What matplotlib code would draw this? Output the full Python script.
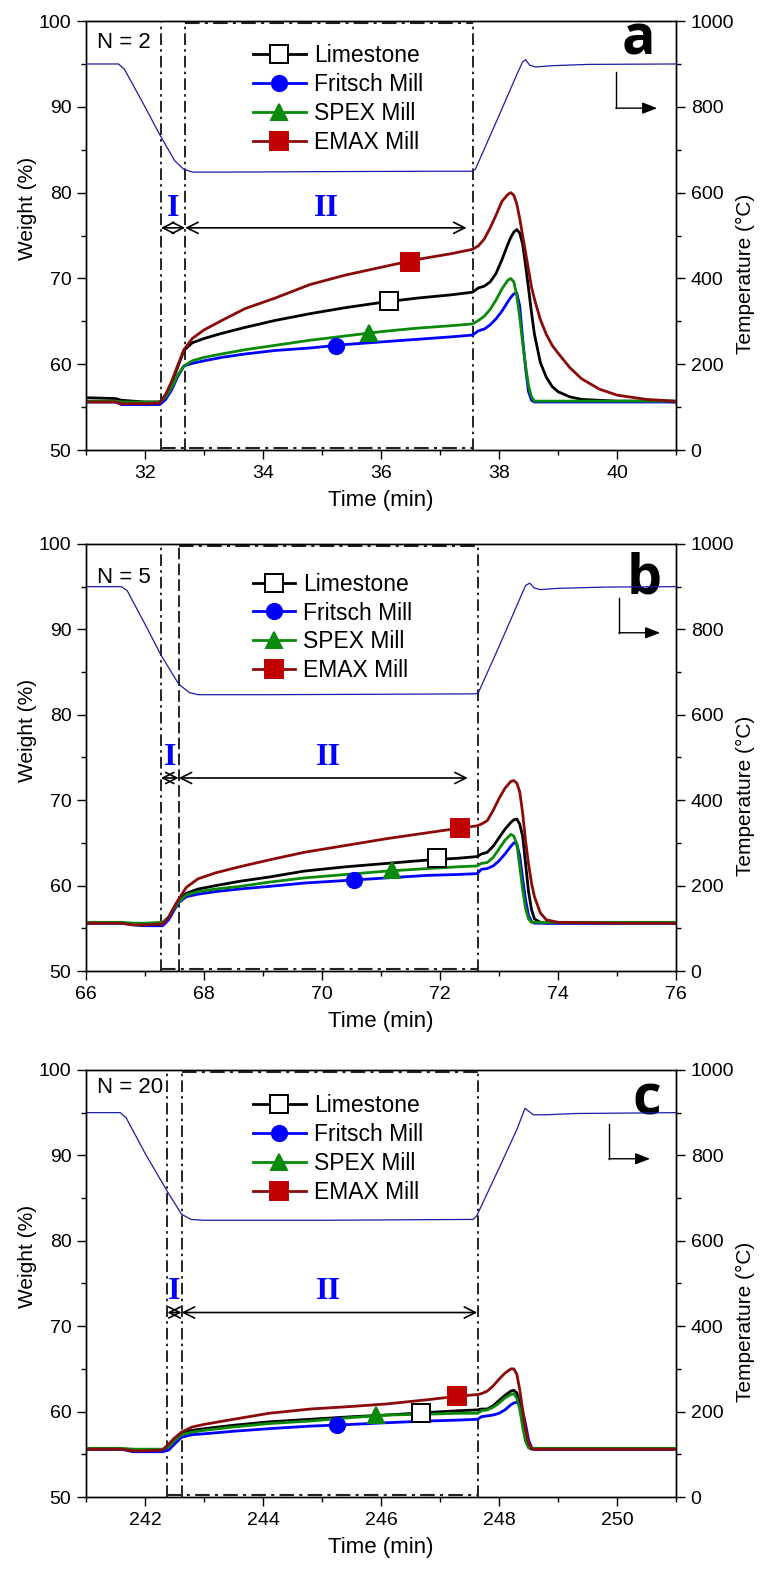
import matplotlib
matplotlib.use('Agg')
import matplotlib.pyplot as plt
from matplotlib.lines import Line2D
from matplotlib.ticker import MultipleLocator

plt.rcParams['font.family'] = ['Liberation Sans', 'DejaVu Sans']

labels = ['Limestone', 'Fritsch Mill', 'SPEX Mill', 'EMAX Mill']

# ---------- panel a, N = 2 ----------
a_t = [31.0, 31.5, 31.6, 31.8, 32.0, 32.25, 32.35, 32.45, 32.55, 32.66, 32.8, 33.0, 33.3, 33.7,
       34.2, 34.8, 35.4, 36.0, 36.6, 37.2, 37.55, 37.65, 37.75, 37.85, 37.95, 38.05, 38.15, 38.2,
       38.25, 38.3, 38.35, 38.4, 38.45, 38.5, 38.55, 38.6, 38.7, 38.8, 38.9, 39.0, 39.2, 39.4,
       39.7, 40.0, 40.5, 41.0]
a_lime = [56.1, 56.0, 55.8, 55.7, 55.6, 55.6, 56.4, 57.8, 59.6, 61.6, 62.5, 63.0, 63.6, 64.3,
          65.1, 65.9, 66.6, 67.2, 67.7, 68.1, 68.4, 68.9, 69.1, 69.6, 70.6, 72.2, 74.0, 74.8,
          75.4, 75.7, 75.3, 74.0, 71.5, 68.8, 66.0, 63.5, 60.2, 58.5, 57.4, 56.8, 56.2, 55.9,
          55.8, 55.7, 55.7, 55.6]
a_fritsch = [55.6, 55.6, 55.3, 55.3, 55.3, 55.3, 55.9, 57.0, 58.5, 59.8, 60.1, 60.4, 60.8, 61.2,
             61.6, 61.9, 62.3, 62.6, 62.9, 63.2, 63.4, 63.9, 64.1, 64.6, 65.3, 66.2, 67.3, 67.8,
             68.2, 68.3, 66.8, 63.0, 59.5, 56.8, 55.8, 55.6, 55.6, 55.6, 55.6, 55.6, 55.6, 55.6,
             55.6, 55.6, 55.6, 55.6]
a_spex = [55.7, 55.7, 55.6, 55.6, 55.6, 55.6, 56.2, 57.3, 58.7, 59.8, 60.4, 60.8, 61.2, 61.7,
          62.2, 62.8, 63.3, 63.8, 64.2, 64.5, 64.7, 65.1, 65.6, 66.4, 67.5, 68.8, 69.8, 70.0,
          69.6, 68.0, 65.5, 62.5, 59.8, 57.5, 56.2, 55.7, 55.7, 55.7, 55.7, 55.7, 55.7, 55.7,
          55.7, 55.7, 55.7, 55.7]
a_emax = [55.6, 55.6, 55.4, 55.4, 55.4, 55.5, 56.5, 58.0, 59.8, 61.7, 63.0, 64.0, 65.1, 66.5,
          67.7, 69.3, 70.4, 71.3, 72.2, 72.9, 73.4, 73.8, 74.6, 75.9, 77.4, 79.0, 79.8, 80.0,
          79.7, 78.7, 77.0, 75.0, 73.0, 71.0, 69.0, 67.6, 65.2, 63.5, 62.2, 61.3, 59.6, 58.3,
          57.1, 56.4, 55.9, 55.7]
a_mk_t = [36.13, 35.24, 35.79, 36.49]
a_mk_w = [67.4, 62.1, 63.7, 71.9]
a_temp_t = [31.0, 31.55, 31.65, 32.0, 32.25, 32.5, 32.65, 32.8, 33.5, 35.0, 37.0, 37.55, 37.6,
            38.0, 38.3, 38.4, 38.45, 38.52, 38.62, 38.9, 39.5, 41.0]
a_temp = [900, 900, 888, 800, 735, 675, 655, 648, 648, 649, 650, 650, 655, 780, 875, 905, 910,
          897, 893, 896, 899, 900]
a_stage = [32.27, 32.68, 37.55]

# ---------- panel b, N = 5 ----------
b_t = [66.0, 66.6, 66.8, 67.0, 67.3, 67.4, 67.5, 67.57, 67.7, 67.9, 68.2, 68.6, 69.1, 69.7,
       70.4, 71.1, 71.8, 72.3, 72.63, 72.7, 72.8, 72.9, 73.0, 73.1, 73.2, 73.25, 73.3, 73.35,
       73.4, 73.45, 73.5, 73.55, 73.6, 73.7, 73.8, 74.0, 75.0, 76.0]
b_lime = [55.6, 55.6, 55.5, 55.4, 55.5, 56.2, 57.5, 58.3, 59.1, 59.6, 60.0, 60.5, 61.0, 61.7,
          62.2, 62.6, 63.0, 63.2, 63.4, 63.7, 63.9, 64.6, 65.6, 66.6, 67.4, 67.7, 67.8, 67.2,
          65.8, 62.5, 59.3, 57.2, 56.1, 55.7, 55.6, 55.6, 55.6, 55.6]
b_fritsch = [55.6, 55.6, 55.4, 55.3, 55.3, 56.0, 57.2, 58.0, 58.7, 59.0, 59.3, 59.6, 59.9, 60.3,
             60.6, 60.9, 61.2, 61.3, 61.4, 61.9, 62.0, 62.3, 62.9, 63.7, 64.6, 65.0, 64.9, 63.5,
             60.8, 58.3, 56.5, 55.8, 55.6, 55.6, 55.6, 55.6, 55.6, 55.6]
b_spex = [55.7, 55.7, 55.6, 55.6, 55.7, 56.3, 57.4, 58.1, 58.9, 59.3, 59.6, 59.9, 60.4, 60.9,
          61.3, 61.7, 62.0, 62.2, 62.3, 62.6, 62.7, 63.3, 64.3, 65.3, 66.0, 65.8, 64.9, 62.3,
          59.5, 57.3, 56.1, 55.7, 55.7, 55.7, 55.7, 55.7, 55.7, 55.7]
b_emax = [55.6, 55.6, 55.4, 55.4, 55.5, 56.3, 57.6, 58.4, 59.8, 60.8, 61.5, 62.2, 63.0, 63.9,
          64.7, 65.5, 66.2, 66.7, 67.0, 67.2, 67.6, 68.8, 70.2, 71.4, 72.2, 72.3, 72.0, 71.0,
          68.5, 65.2, 62.5, 60.3, 58.7, 56.8, 56.0, 55.7, 55.6, 55.6]
b_mk_t = [71.95, 70.55, 71.18, 72.34]
b_mk_w = [63.2, 60.7, 61.8, 66.8]
b_temp_t = [66.0, 66.6, 66.7, 67.0, 67.27, 67.57, 67.75, 67.9, 69.0, 71.0, 72.6, 72.65, 73.0,
            73.3, 73.45, 73.52, 73.6, 73.7, 74.0, 74.8, 76.0]
b_temp = [900, 900, 890, 812, 740, 672, 652, 647, 647, 648, 649, 652, 760, 855, 903, 908, 897,
          893, 896, 899, 900]
b_stage = [67.27, 67.57, 72.64]

# ---------- panel c, N = 20 ----------
c_t = [241.0, 241.6, 241.8, 242.0, 242.3, 242.4, 242.5, 242.62, 242.8, 243.0, 243.5, 244.1,
       244.8, 245.5, 246.1, 246.8, 247.3, 247.64, 247.7, 247.8, 247.9, 248.0, 248.1, 248.2,
       248.25, 248.3, 248.35, 248.4, 248.45, 248.5, 248.55, 248.6, 248.7, 249.0, 250.0, 251.0]
c_lime = [55.6, 55.6, 55.5, 55.4, 55.5, 56.1, 56.8, 57.5, 57.8, 58.0, 58.4, 58.8, 59.1, 59.4,
          59.6, 59.9, 60.1, 60.2, 60.3, 60.3, 60.7, 61.3, 61.9, 62.4, 62.5, 62.2, 61.0, 58.8,
          56.7, 55.8, 55.6, 55.6, 55.6, 55.6, 55.6, 55.6]
c_fritsch = [55.6, 55.6, 55.3, 55.3, 55.3, 55.5, 56.2, 57.0, 57.3, 57.4, 57.7, 58.0, 58.3, 58.5,
             58.7, 58.9, 59.0, 59.1, 59.4, 59.5, 59.6, 59.8, 60.2, 60.8, 61.0, 61.1, 60.8, 60.0,
             58.5, 56.7, 55.8, 55.6, 55.6, 55.6, 55.6, 55.6]
c_spex = [55.7, 55.7, 55.6, 55.6, 55.6, 55.9, 56.6, 57.3, 57.6, 57.8, 58.2, 58.6, 58.9, 59.3,
          59.6, 59.7, 59.8, 59.8, 60.1, 60.2, 60.5, 61.0, 61.6, 62.0, 62.1, 61.6, 60.3, 58.2,
          56.5, 55.8, 55.7, 55.7, 55.7, 55.7, 55.7, 55.7]
c_emax = [55.6, 55.6, 55.4, 55.4, 55.5, 56.2, 56.9, 57.6, 58.2, 58.5, 59.1, 59.8, 60.3, 60.6,
          60.9, 61.4, 61.8, 62.0, 62.1, 62.4, 63.0, 63.8, 64.5, 65.0, 65.0, 64.4, 62.6, 60.2,
          58.0, 56.4, 55.7, 55.6, 55.6, 55.6, 55.6, 55.6]
c_mk_t = [246.68, 245.26, 245.92, 247.29]
c_mk_w = [59.8, 58.4, 59.6, 61.8]
c_temp_t = [241.0, 241.58, 241.68, 242.0, 242.38, 242.62, 242.78, 243.0, 245.0, 247.56, 247.62,
            248.0, 248.3, 248.44, 248.58, 248.8, 249.3, 251.0]
c_temp = [900, 900, 888, 805, 715, 662, 650, 648, 648, 650, 658, 770, 860, 910, 895, 895, 898, 900]
c_stage = [242.38, 242.62, 247.64]

# colours / markers for Limestone, Fritsch, SPEX, EMAX
line_cols = ['black', '#0000ff', '#0a8a0a', '#8b0a0a']
mk_face = ['white', '#0000ff', '#0a8a0a', '#c00000']
mk_edge = ['black', '#0000ff', '#0a8a0a', '#c00000']
mk_shape = ['s', 'o', '^', 's']
mk_size = [12.5, 11, 12, 12.5]

panels = [
    dict(t=a_t, ys=[a_lime, a_fritsch, a_spex, a_emax], mt=a_mk_t, mw=a_mk_w, tt=a_temp_t,
         tv=a_temp, st=a_stage, xlim=(31, 41), xt=[32, 34, 36, 38, 40], n='N = 2', let='a',
         rect=[0.1126, 0.7139, 0.7723, 0.2727], arrow_w=75.9, lab_w=78.2, ii_x=35.08, ii_end=37.45,
         t2_ls=(0, (7, 2.5, 1.5, 2.5)), leg_y=0.946, leg_hl=2.3, n_y=0.937, let_y=0.921, let_x=0.965,
         corner=(0.898, 0.968, 0.881, 0.797)),
    dict(t=b_t, ys=[b_lime, b_fritsch, b_spex, b_emax], mt=b_mk_t, mw=b_mk_w, tt=b_temp_t,
         tv=b_temp, st=b_stage, xlim=(66, 76), xt=[66, 68, 70, 72, 74, 76], n='N = 5', let='b',
         rect=[0.1126, 0.3827, 0.7723, 0.2715], arrow_w=72.6, lab_w=75.0, ii_x=70.1, ii_end=72.47,
         t2_ls=(0, (7, 2.5)), leg_y=0.933, leg_hl=1.85, n_y=0.909, let_y=0.885, let_x=0.975,
         corner=(0.903, 0.973, 0.874, 0.792)),
    dict(t=c_t, ys=[c_lime, c_fritsch, c_spex, c_emax], mt=c_mk_t, mw=c_mk_w, tt=c_temp_t,
         tv=c_temp, st=c_stage, xlim=(241, 251), xt=[242, 244, 246, 248, 250], n='N = 20', let='c',
         rect=[0.1126, 0.04831, 0.7723, 0.2715], arrow_w=71.6, lab_w=74.1, ii_x=245.1, ii_end=247.63,
         t2_ls=(0, (7, 2.5, 1.5, 2.5)), leg_y=0.943, leg_hl=2.3, n_y=0.946, let_y=0.895, let_x=0.975,
         corner=(0.886, 0.956, 0.874, 0.792)),
]

fig = plt.figure(figsize=(7.64, 15.73), dpi=100)
dashdot = (0, (7, 2.5, 1.5, 2.5))

for p in panels:
    ax = fig.add_axes(p['rect'])
    tx = ax.twinx()

    for y, c in zip(p['ys'], line_cols):
        ax.plot(p['t'], y, color=c, lw=2.0, zorder=3)
    for i in range(4):
        ax.plot(p['mt'][i], p['mw'][i], marker=mk_shape[i], ms=mk_size[i], mfc=mk_face[i],
                mec=mk_edge[i], mew=1.4, zorder=4, ls='none')

    tx.plot(p['tt'], p['tv'], color='#1c1ca8', lw=0.9)

    t1, t2, t3 = p['st']
    ax.axvline(t1, color='black', lw=1.2, ls=dashdot, zorder=2)
    ax.axvline(t2, color='black', lw=1.2, ls=p['t2_ls'], zorder=2)
    ax.axvline(t3, color='black', lw=1.2, ls=dashdot, zorder=2)
    ax.plot([t1, t3], [50.25, 50.25], color='#222222', lw=1.5, ls=dashdot, clip_on=False, zorder=2)
    ax.plot([t2, t3], [99.8, 99.8], color='#222222', lw=1.5, ls=dashdot, clip_on=False, zorder=2)

    aw = p['arrow_w']
    ap = dict(arrowstyle='<->,head_length=0.8,head_width=0.4', lw=1.2, color='black',
              shrinkA=0, shrinkB=0)
    ax.annotate('', xy=(t2, aw), xytext=(t1, aw), arrowprops=ap)
    ax.annotate('', xy=(p['ii_end'], aw), xytext=(t2, aw), arrowprops=ap)
    ax.text((t1 + t2) / 2, p['lab_w'], 'I', color='#0000ff', fontsize=23, fontweight='bold',
            family='Liberation Serif', ha='center', va='center')
    ax.text(p['ii_x'], p['lab_w'], 'II', color='#0000ff', fontsize=23, fontweight='bold',
            family='Liberation Serif', ha='center', va='center')

    ax.text(0.019, p['n_y'], p['n'], transform=ax.transAxes, fontsize=16, va='baseline')
    ax.text(p['let_x'], p['let_y'], p['let'], transform=ax.transAxes, fontsize=40,
            fontweight='bold', family=['Open Sans', 'DejaVu Sans'], ha='right', va='baseline')

    x0, x1, y0, y1 = p['corner']
    ax.plot([x0, x0], [y0, y1], color='black', lw=1.0, transform=ax.transAxes)
    ax.annotate('', xy=(x1, y1), xytext=(x0, y1), xycoords='axes fraction',
                arrowprops=dict(arrowstyle='-|>,head_length=0.9,head_width=0.35', lw=1.0,
                                color='black', shrinkA=0, shrinkB=0))

    handles = [Line2D([], [], color=line_cols[i], lw=2.0, marker=mk_shape[i], ms=mk_size[i],
                      mfc=mk_face[i], mec=mk_edge[i], mew=1.4) for i in range(4)]
    ax.legend(handles, labels, loc='upper left', bbox_to_anchor=(0.283, p['leg_y']),
              frameon=False, fontsize=16.5, handlelength=p['leg_hl'], handletextpad=0.35,
              labelspacing=0.26, borderpad=0, borderaxespad=0)

    ax.set_xlim(*p['xlim'])
    ax.set_ylim(50, 100)
    tx.set_ylim(0, 1000)
    ax.set_xticks(p['xt'])
    ax.xaxis.set_minor_locator(MultipleLocator(1))
    ax.yaxis.set_major_locator(MultipleLocator(10))
    ax.yaxis.set_minor_locator(MultipleLocator(5))
    tx.yaxis.set_major_locator(MultipleLocator(200))
    tx.yaxis.set_minor_locator(MultipleLocator(100))
    for a in (ax, tx):
        a.tick_params(which='major', direction='out', length=6.5, width=1.0, labelsize=14, pad=4)
        a.tick_params(which='minor', direction='out', length=3.5, width=1.0)
        for s in a.spines.values():
            s.set_linewidth(1.0)

    ax.set_xlabel('Time (min)', fontsize=16, labelpad=6)
    ax.set_ylabel('Weight (%)', fontsize=15)
    tx.set_ylabel('Temperature (°C)', fontsize=15)
    ax.yaxis.set_label_coords(-0.083, 0.563)
    tx.yaxis.set_label_coords(1.102, 0.41)

fig.savefig('out.png', dpi=100)
